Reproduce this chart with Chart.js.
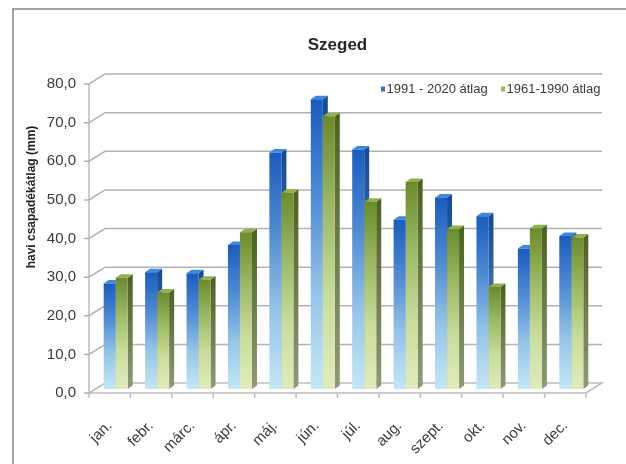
<!DOCTYPE html>
<html>
<head>
<meta charset="utf-8">
<script src="https://cdn.jsdelivr.net/npm/chart.js@4/dist/chart.umd.min.js"></script>
<style>
  html, body { margin: 0; padding: 0; background: #fff; }
  canvas { display: block; }
</style>
</head>
<body>
<canvas id="chart" width="626" height="464"></canvas>
<script>
// Havi csapadékátlag, Szeged (mm)
const months = ['jan.', 'febr.', 'márc.', 'ápr.', 'máj.', 'jún.', 'júl.', 'aug.', 'szept.', 'okt.', 'nov.', 'dec.'];
const avg1991to2020 = [27.3, 30.2, 30.0, 37.3, 61.2, 75.0, 62.0, 43.8, 49.6, 44.7, 36.4, 39.6];
const avg1961to1990 = [28.8, 25.0, 28.3, 40.6, 50.8, 70.6, 48.5, 53.6, 41.4, 26.4, 41.6, 39.2];
const seriesLabels = ['1991 - 2020 átlag', '1961-1990 átlag'];
const yTickValues = [0, 10, 20, 30, 40, 50, 60, 70, 80];
const chartTitle = 'Szeged';
const yAxisTitle = 'havi csapadékátlag (mm)';

// pseudo-3D geometry
const WALL = { dx: 16, dy: -10 };   // front plane -> back wall
const BAR_POS = { dx: 6, dy: -4 };  // front plane -> bar front faces
const BAR_DEPTH = { dx: 5, dy: -3.5 };

const palettes = [
  { front: ['#1a5cbf', '#4f8ad3', '#95c4e8', '#c4e7f5'], side: ['#134a98', '#6d9fc8'], top: '#3a8ae0', key: '#2f73c9' },
  { front: ['#6b8b2b', '#9cb964', '#cadd9c', '#e0ebbb'], side: ['#4c6221', '#8d9b78'], top: '#92b04e', key: '#9bbb59' }
];

function vGrad(ctx, top, bottom, stops) {
  const g = ctx.createLinearGradient(0, top, 0, bottom);
  const n = stops.length - 1;
  stops.forEach((c, i) => g.addColorStop(i / n, c));
  return g;
}

function frontFill(dsIndex) {
  return (c) => {
    const chart = c.chart;
    if (!chart.chartArea || c.type !== 'data') return palettes[dsIndex].key;
    const y = chart.scales.y;
    const top = y.getPixelForValue(c.raw);
    const base = y.getPixelForValue(0);
    return vGrad(chart.ctx, top, base, palettes[dsIndex].front);
  };
}

const threeD = {
  id: 'threeD',
  beforeDraw(chart) {
    const ctx = chart.ctx;
    ctx.save();
    ctx.fillStyle = '#ffffff';
    ctx.fillRect(0, 0, chart.width, chart.height);
    // outer frame
    ctx.strokeStyle = '#a3a3a3';
    ctx.lineWidth = 2;
    ctx.beginPath();
    ctx.moveTo(13, chart.height);
    ctx.lineTo(13, 9);
    ctx.lineTo(chart.width, 9);
    ctx.stroke();
    ctx.restore();
  },
  beforeDatasetsDraw(chart) {
    const ctx = chart.ctx;
    const ys = chart.scales.y;
    const L = chart.chartArea.left, R = chart.chartArea.right;
    const y0 = ys.getPixelForValue(0);
    ctx.save();
    // floor
    ctx.fillStyle = '#ffffff';
    ctx.strokeStyle = '#bdbdbd';
    ctx.lineWidth = 1.5;
    ctx.beginPath();
    ctx.moveTo(L, y0);
    ctx.lineTo(R, y0);
    ctx.lineTo(R + WALL.dx, y0 + WALL.dy);
    ctx.lineTo(L + WALL.dx, y0 + WALL.dy);
    ctx.closePath();
    ctx.fill();
    ctx.stroke();
    // category tick marks under the floor
    ctx.beginPath();
    for (let i = 0; i <= months.length; i++) {
      const x = L + (R - L) * i / months.length;
      ctx.moveTo(x, y0);
      ctx.lineTo(x, y0 + 5);
    }
    ctx.stroke();
    // front value axis
    ctx.beginPath();
    ctx.moveTo(L, ys.getPixelForValue(yTickValues[yTickValues.length - 1]));
    ctx.lineTo(L, y0);
    ctx.stroke();
    // wall grid lines
    ctx.strokeStyle = '#b2b2b2';
    ctx.beginPath();
    yTickValues.forEach(v => {
      const y = ys.getPixelForValue(v);
      ctx.moveTo(L - 5, y);
      ctx.lineTo(L, y);
      if (v !== 0) {
        ctx.lineTo(L + WALL.dx, y + WALL.dy);
        ctx.lineTo(R + WALL.dx, y + WALL.dy);
      }
    });
    ctx.stroke();
    ctx.restore();

    // bars: side and top faces first, front faces are drawn by the controller
    ctx.save();
    ctx.translate(BAR_POS.dx, BAR_POS.dy);
    chart.data.datasets.forEach((ds, di) => {
      const meta = chart.getDatasetMeta(di);
      const pal = palettes[di];
      meta.data.forEach(el => {
        const { x, y, base, width } = el.getProps(['x', 'y', 'base', 'width'], true);
        const l = x - width / 2, r = x + width / 2;
        const dx = BAR_DEPTH.dx, dy = BAR_DEPTH.dy;
        ctx.fillStyle = vGrad(ctx, y, base, pal.side);
        ctx.beginPath();
        ctx.moveTo(r, y);
        ctx.lineTo(r + dx, y + dy);
        ctx.lineTo(r + dx, base + dy);
        ctx.lineTo(r, base);
        ctx.closePath();
        ctx.fill();
        ctx.fillStyle = pal.top;
        ctx.beginPath();
        ctx.moveTo(l, y);
        ctx.lineTo(l + dx, y + dy);
        ctx.lineTo(r + dx, y + dy);
        ctx.lineTo(r, y);
        ctx.closePath();
        ctx.fill();
      });
    });
  },
  afterDatasetsDraw(chart) {
    chart.ctx.restore();
  },
  afterDraw(chart) {
    const ctx = chart.ctx;
    ctx.save();
    // value axis title
    ctx.translate(32, 197);
    ctx.rotate(-Math.PI / 2);
    ctx.font = 'bold 12px "Liberation Sans"';
    ctx.fillStyle = '#262626';
    ctx.textAlign = 'center';
    ctx.textBaseline = 'middle';
    ctx.fillText(yAxisTitle, 0, 0);
    ctx.restore();
    // legend
    ctx.save();
    ctx.font = '13px "Liberation Sans"';
    ctx.textBaseline = 'middle';
    const keyX = [381, 501];
    chart.data.datasets.forEach((ds, i) => {
      const bx = keyX[i];
      ctx.fillStyle = palettes[i].key;
      ctx.fillRect(bx, 86.5, 4, 5);
      ctx.fillStyle = '#3a3a3a';
      ctx.fillText(ds.label, bx + 5.5, 89);
    });
    ctx.restore();
  }
};

const tickFont = { family: 'Liberation Sans', size: 15 };

new Chart(document.getElementById('chart'), {
  type: 'bar',
  data: {
    labels: months,
    datasets: [
      { label: seriesLabels[0], data: avg1991to2020, backgroundColor: frontFill(0), borderWidth: 0, barPercentage: 1, categoryPercentage: 0.58 },
      { label: seriesLabels[1], data: avg1961to1990, backgroundColor: frontFill(1), borderWidth: 0, barPercentage: 1, categoryPercentage: 0.58 }
    ]
  },
  options: {
    responsive: false,
    animation: false,
    events: [],
    layout: { padding: { left: 28, right: 40, top: 0, bottom: 0 } },
    plugins: {
      legend: { display: false },
      tooltip: { enabled: false },
      title: {
        display: true,
        text: chartTitle,
        fullSize: false,
        color: '#262626',
        font: { family: 'Liberation Sans', size: 17, weight: 'bold' },
        padding: { top: 35, bottom: 28.6 }
      }
    },
    scales: {
      x: {
        grid: { display: false, drawTicks: false },
        border: { display: false },
        ticks: { autoSkip: false, minRotation: 45, maxRotation: 45, padding: 24, color: '#3a3a3a', font: tickFont },
        afterFit(s) { s.height = 71; }
      },
      y: {
        min: 0,
        max: 80,
        afterBuildTicks(s) { s.ticks = yTickValues.map(v => ({ value: v })); },
        grid: { display: false, drawTicks: false },
        border: { display: false },
        ticks: { padding: 13, color: '#3a3a3a', font: tickFont, callback: v => v.toFixed(1).replace('.', ',') },
        afterFit(s) { s.width = 61; }
      }
    }
  },
  plugins: [threeD]
});
</script>
</body>
</html>
